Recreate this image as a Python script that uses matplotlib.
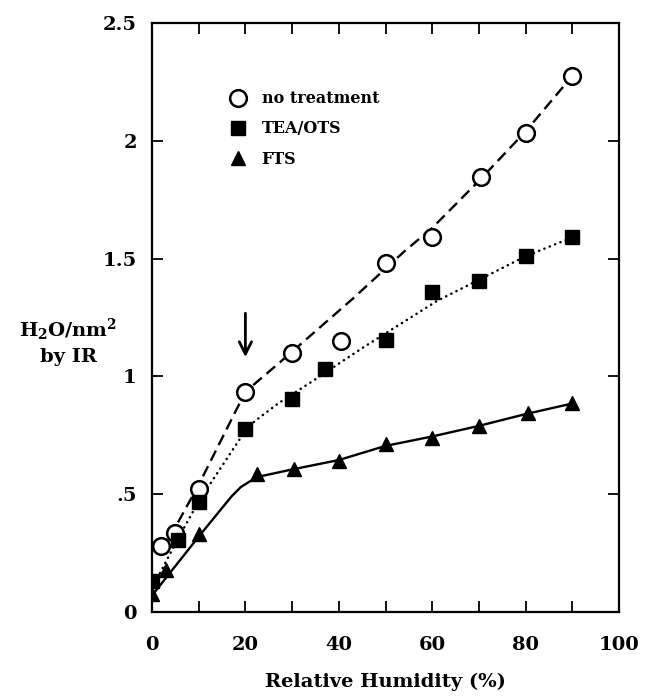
import matplotlib
matplotlib.use("Agg")
import matplotlib.pyplot as plt
from matplotlib.lines import Line2D

plt.rcParams['font.family'] = ['DejaVu Serif']
plt.rcParams['font.weight'] = 'bold'
plt.rcParams['mathtext.fontset'] = 'dejavuserif'

# --- data: measured points ---
rh_nt = [2, 5, 10, 20, 30, 40.5, 50, 60, 70.5, 80, 90]
h2o_nt = [0.28, 0.335, 0.52, 0.935, 1.10, 1.15, 1.48, 1.59, 1.845, 2.035, 2.275]

rh_tea = [0, 5.5, 10, 20, 30, 37, 50, 60, 70, 80, 90]
h2o_tea = [0.13, 0.305, 0.465, 0.775, 0.905, 1.03, 1.155, 1.36, 1.405, 1.51, 1.59]

rh_fts = [0, 3, 10, 22.5, 30.5, 40, 50, 60, 70, 80.5, 90]
h2o_fts = [0.075, 0.18, 0.33, 0.585, 0.605, 0.64, 0.715, 0.74, 0.79, 0.845, 0.885]

# --- data: fitted guide curves (knots) ---
fit_nt_x = [2, 5, 10, 20, 27.4, 43, 54, 60, 70, 80, 90]
fit_nt_y = [0.25, 0.36, 0.54, 0.935, 1.06, 1.33, 1.53, 1.63, 1.83, 2.04, 2.275]

fit_tea_x = [0, 5, 10, 20, 22, 27, 34, 45, 55, 61, 70, 80, 90]
fit_tea_y = [0.10, 0.29, 0.47, 0.77, 0.81, 0.885, 0.975, 1.12, 1.245, 1.32, 1.41, 1.51, 1.59]

fit_fts_x = [0, 10, 17, 19, 21, 23, 30, 40, 50, 60, 70, 80, 90]
fit_fts_y = [0.07, 0.32, 0.49, 0.53, 0.555, 0.575, 0.605, 0.645, 0.705, 0.745, 0.79, 0.84, 0.885]

legend_labels = ['no treatment', 'TEA/OTS', 'FTS']
xticks_major = [0, 20, 40, 60, 80, 100]
yticks = [0, 0.5, 1, 1.5, 2, 2.5]
ytick_labels = ['0', '.5', '1', '1.5', '2', '2.5']

fig = plt.figure(figsize=(6.45, 6.96), dpi=100)
ax = fig.add_axes([152/645, 1 - 612/696, 467/645, 589/696])

ax.plot(fit_nt_x, fit_nt_y, color='black', lw=1.7, linestyle=(0, (4.8, 2.6)))
ax.plot(fit_tea_x, fit_tea_y, color='black', lw=1.8, linestyle=(0, (0.1, 2.2)),
        dash_capstyle='round')
ax.plot(fit_fts_x, fit_fts_y, color='black', lw=1.7, linestyle='-')

ax.plot(rh_nt, h2o_nt, 'o', ms=12, mfc='white', mec='black', mew=1.8, zorder=5)
ax.plot(rh_tea, h2o_tea, 's', ms=9.5, mfc='black', mec='black', zorder=5)
ax.plot(rh_fts, h2o_fts, '^', ms=10, mfc='black', mec='black', zorder=5)

ax.set_xlim(0, 100)
ax.set_ylim(0, 2.5)
ax.set_xticks(xticks_major)
ax.set_xticks(list(range(10, 100, 20)), minor=True)
ax.set_yticks(yticks)
ax.set_yticklabels(ytick_labels)
ax.tick_params(which='both', direction='in', top=True, right=True,
               labelsize=14, width=1.3)
ax.tick_params(which='major', length=8)
ax.tick_params(which='minor', length=8)
ax.tick_params(axis='x', pad=17)
ax.tick_params(axis='y', pad=11)
for s in ax.spines.values():
    s.set_linewidth(1.6)

ax.set_xlabel('Relative Humidity (%)', fontsize=14, fontweight='bold', labelpad=14)
fig.text(68/645, 1 - 341/696, 'H$_{\\mathbf{2}}$O/nm$^{\\mathbf{2}}$\nby IR',
         ha='center', va='center', fontsize=14, fontweight='bold',
         linespacing=1.35)

ax.annotate('', xy=(20, 1.07), xytext=(20, 1.28),
            arrowprops=dict(arrowstyle='->', lw=2, color='black', mutation_scale=22))

handles = [
    Line2D([], [], marker='o', ls='none', ms=12, mfc='white', mec='black', mew=1.8),
    Line2D([], [], marker='s', ls='none', ms=9.5, mfc='black', mec='black'),
    Line2D([], [], marker='^', ls='none', ms=10, mfc='black', mec='black'),
]
ax.legend(handles, legend_labels, loc='upper left', bbox_to_anchor=(0.12, 0.91),
          frameon=False, handletextpad=0.45, labelspacing=0.82,
          prop={'weight': 'bold', 'size': 11.5})

fig.savefig('out.png', dpi=100)
